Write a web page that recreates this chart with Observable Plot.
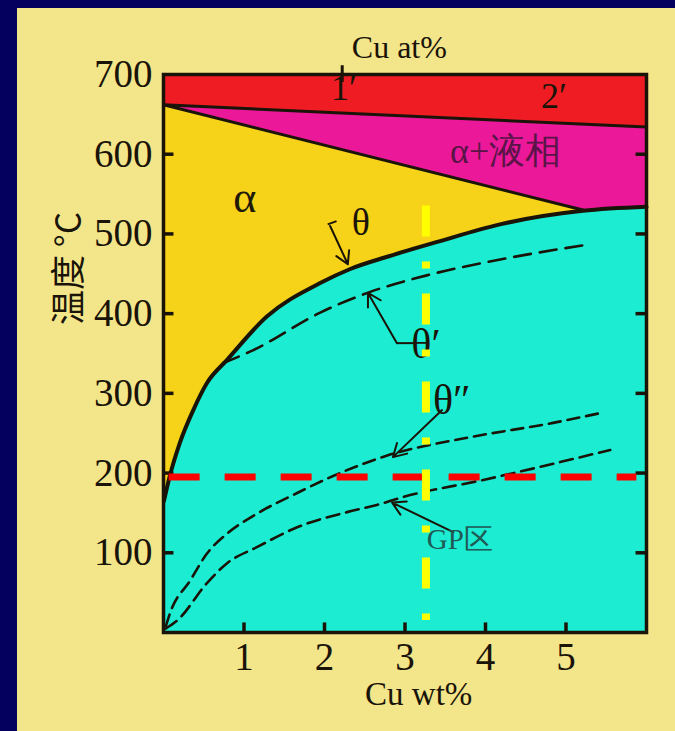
<!DOCTYPE html>
<html>
<head>
<meta charset="utf-8">
<script src="https://cdn.jsdelivr.net/npm/d3@7"></script>
<script src="https://cdn.jsdelivr.net/npm/@observablehq/plot@0.6"></script>
<style>
  html, body { margin: 0; padding: 0; background: #03005e; width: 675px; height: 731px; overflow: hidden; }
  #panel { position: absolute; left: 17px; top: 8px; width: 658px; height: 723px; background: #f3e58a; }
  #chart { position: absolute; left: 0; top: 0; }
</style>
</head>
<body>
<div id="panel"></div>
<div id="chart"></div>
<script>
// Al–Cu phase diagram, aluminium-rich corner (temperature vs Cu wt%)
const xTicks = [1, 2, 3, 4, 5];
const yTicks = [100, 200, 300, 400, 500, 600, 700];

// phase boundaries: [Cu wt%, °C]
const liquidus = [[0, 662], [6, 634]];
const solidus = [[0, 662], [5.21, 530]];
const solvus = [
  [0, 0], [0.005, 165], [0.08, 197], [0.2, 237], [0.37, 279], [0.54, 313],
  [0.79, 342], [1.28, 396], [1.94, 438], [2.32, 456], [2.8, 472],
  [3.4, 490], [4.18, 512], [5.21, 529], [6, 534]
];

// metastable solvus lines
const thetaPrime = [
  [0.74, 338], [1.11, 354], [1.94, 401], [2.56, 427], [3.27, 448],
  [3.93, 463], [4.51, 474], [5.23, 486]
];
const thetaDoublePrime = [
  [0.03, 8], [0.08, 24], [0.33, 65], [0.54, 99], [0.79, 124], [1.16, 149],
  [1.66, 175], [2.1, 196], [2.78, 222], [3.81, 245], [4.84, 263], [5.46, 276]
];
const gpZone = [
  [0.03, 5], [0.17, 15], [0.54, 62], [0.79, 87], [1.16, 107], [1.66, 132],
  [2.28, 151], [2.65, 160], [2.98, 170], [4.0, 192], [5.55, 229]
];

// top axis: atomic percent marks, placed on the wt% scale
const atLabels = [{x: 2.24, t: 682, label: "1′"}, {x: 4.85, t: 673, label: "2′"}];
const atTicks = [2.22];

// region and line labels
const regionLabels = [
  {x: 1.01, t: 545, label: "α", size: 44, color: "#201808", anchor: "middle"},
  {x: 4.25, t: 604, label: "α+液相", size: 36, color: "#5a1448", anchor: "middle"},
  {x: 2.45, t: 514, label: "θ", size: 38, color: "#1a1408", anchor: "middle"},
  {x: 3.26, t: 361, label: "θ′", size: 42, color: "#1a1408", anchor: "start"},
  {x: 3.58, t: 291, label: "θ″", size: 42, color: "#1a1408", anchor: "start"},
  {x: 3.68, t: 116, label: "GP区", size: 29, color: "#1f5a55", anchor: "start"}
];
const arrows = [
  {x1: 2.07, y1: 510, x2: 2.29, y2: 462},
  {x1: 2.90, y1: 363, x2: 2.54, y2: 426},
  {x1: 3.46, y1: 279, x2: 2.85, y2: 220},
  {x1: 3.60, y1: 126, x2: 2.84, y2: 163}
];
const leaders = [
  {x1: 2.04, y1: 512, x2: 2.15, y2: 516},
  {x1: 3.15, y1: 363, x2: 2.90, y2: 363}
];

// highlighted reading lines
const markTemp = 195;
const markComp = 3.26;

const RED = "#f01c24", MAGENTA = "#ec189a", YELLOW = "#f6d218", CYAN = "#1cecd2";
const INK = "#1a1408";
const X = d => d[0], T = d => d[1];
const serif = "Liberation Serif, Times New Roman, serif";

const chart = Plot.plot({
  width: 675,
  height: 731,
  marginLeft: 163,
  marginRight: 29,
  marginTop: 74,
  marginBottom: 99,
  x: {domain: [0, 6], axis: null},
  y: {domain: [0, 700], axis: null},
  style: {background: "transparent", fontFamily: serif, fontSize: "38px", color: INK},
  marks: [
    Plot.frame({fill: RED}),
    Plot.areaY(liquidus, {x: X, y: T, fill: MAGENTA}),
    Plot.areaY(solidus.concat(solvus.filter(d => d[0] > 5.21)), {x: X, y: T, fill: YELLOW}),
    Plot.areaY(solvus, {x: X, y: T, fill: CYAN, curve: "monotone-x"}),
    Plot.line(liquidus, {x: X, y: T, stroke: INK, strokeWidth: 3}),
    Plot.line(solidus, {x: X, y: T, stroke: INK, strokeWidth: 3}),
    Plot.line(solvus.slice(1), {x: X, y: T, stroke: INK, strokeWidth: 4, curve: "monotone-x"}),
    Plot.line(thetaPrime, {x: X, y: T, stroke: INK, strokeWidth: 2.6, strokeDasharray: "17,9", curve: "monotone-x"}),
    Plot.line(thetaDoublePrime, {x: X, y: T, stroke: INK, strokeWidth: 2.6, strokeDasharray: "12,7", curve: "monotone-x"}),
    Plot.line(gpZone, {x: X, y: T, stroke: INK, strokeWidth: 2.6, strokeDasharray: "13,7", curve: "monotone-x"}),
    Plot.link(leaders, {x1: "x1", y1: "y1", x2: "x2", y2: "y2", stroke: INK, strokeWidth: 2}),
    Plot.arrow(arrows, {x1: "x1", y1: "y1", x2: "x2", y2: "y2", stroke: INK, strokeWidth: 2, headLength: 11}),
    Plot.text(regionLabels, {x: "x", y: "t", text: "label", fontSize: d => d.size, fill: "color", textAnchor: "anchor", fontFamily: serif}),
    Plot.text(atLabels, {x: "x", y: "t", text: "label", fontSize: 36, fill: INK}),
    Plot.frame({stroke: INK, strokeWidth: 3.5}),
    // inward tick marks on all sides
    Plot.ruleY(yTicks.filter(d => d < 700), {y: d => d, x1: 0, x2: 0.13, stroke: INK, strokeWidth: 3.5}),
    Plot.ruleY(yTicks.filter(d => d < 700), {y: d => d, x1: 5.87, x2: 6, stroke: INK, strokeWidth: 3.5}),
    Plot.ruleX(xTicks, {x: d => d, y1: 0, y2: 12, stroke: INK, strokeWidth: 3.5}),
    Plot.ruleX(atTicks, {x: d => d, y1: 690, y2: 711, stroke: INK, strokeWidth: 3}),
    Plot.axisY(yTicks, {tickSize: 0, tickPadding: 11, fontSize: 39, fill: INK}),
    Plot.axisX(xTicks, {tickSize: 0, tickPadding: 10, fontSize: 39, fill: INK}),
    Plot.text(["Cu at%"], {x: 2.93, frameAnchor: "top", lineAnchor: "middle", dy: -27, fontSize: 32, fill: INK}),
    Plot.text(["Cu wt%"], {x: 3.17, frameAnchor: "bottom", lineAnchor: "middle", dy: 62, fontSize: 33, fill: INK}),
    Plot.text(["温度 °C"], {frameAnchor: "top-left", dx: 56 - 163, dy: 268 - 74, rotate: -90, fontSize: 35,
      fontFamily: "Noto Sans CJK SC, sans-serif", fill: INK, textAnchor: "middle"}),
    // reading guides
    Plot.ruleY([markTemp], {x1: 0.07, x2: 5.88, stroke: "#ff0000", strokeWidth: 7, strokeDasharray: "31,25"}),
    Plot.ruleX([markComp], {y1: 535, y2: 15, stroke: "#ffff00", strokeWidth: 8, strokeDasharray: "31,25,7,25"})
  ]
});
document.getElementById("chart").appendChild(chart);
</script>
</body>
</html>
